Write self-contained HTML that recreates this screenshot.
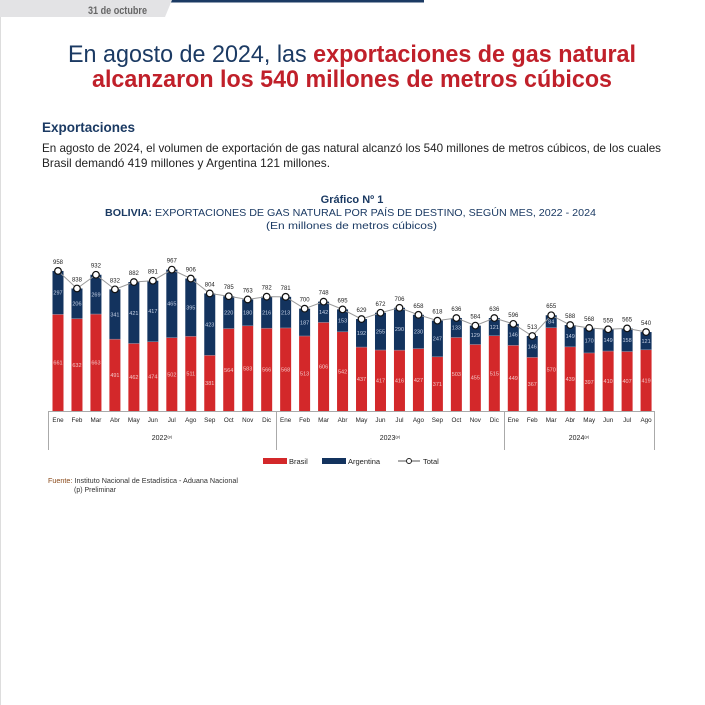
<!DOCTYPE html>
<html><head><meta charset="utf-8"><style>
body{margin:0;background:#fff;}
svg{display:block;font-family:"Liberation Sans",sans-serif;}
</style></head><body>
<svg id="s" width="705" height="705" viewBox="0 0 705 705" xmlns="http://www.w3.org/2000/svg">
<rect width="705" height="705" fill="#fff"/>
<line x1="0.5" y1="0" x2="0.5" y2="705" stroke="#ddd"/>
<rect x="86" y="0" width="338" height="2.5" fill="#1b3a63"/>
<polygon points="0,0 172,0 165,17 0,17" fill="#e3e3e5"/>
<text x="88" y="14" font-size="11" font-weight="bold" fill="#666" textLength="59" lengthAdjust="spacingAndGlyphs">31 de octubre</text>
<text x="68" y="62" font-size="24" textLength="568" lengthAdjust="spacingAndGlyphs"><tspan fill="#1b3a63">En agosto de 2024, las </tspan><tspan fill="#c0202a" font-weight="bold">exportaciones de gas natural</tspan></text>
<text x="92" y="87" font-size="24" font-weight="bold" fill="#c0202a" textLength="520" lengthAdjust="spacingAndGlyphs">alcanzaron los 540 millones de metros cúbicos</text>
<text x="42" y="132" font-size="14" font-weight="bold" fill="#1b3a63" textLength="93" lengthAdjust="spacingAndGlyphs">Exportaciones</text>
<text x="42" y="152" font-size="12" fill="#222" textLength="619" lengthAdjust="spacingAndGlyphs">En agosto de 2024, el volumen de exportación de gas natural alcanzó los 540 millones de metros cúbicos, de los cuales</text>
<text x="42" y="167" font-size="12" fill="#222" textLength="288" lengthAdjust="spacingAndGlyphs">Brasil demandó 419 millones y Argentina 121 millones.</text>
<text x="352" y="203" font-size="11" font-weight="bold" fill="#1b3a63" text-anchor="middle">Gráfico Nº 1</text>
<text x="105" y="216" font-size="10.5" fill="#1b3a63" textLength="491" lengthAdjust="spacingAndGlyphs"><tspan font-weight="bold">BOLIVIA:</tspan> EXPORTACIONES DE GAS NATURAL POR PAÍS DE DESTINO, SEGÚN MES, 2022 - 2024</text>
<text x="266" y="229" font-size="10.5" fill="#1b3a63" textLength="171" lengthAdjust="spacingAndGlyphs">(En millones de metros cúbicos)</text>
<g id="chart"></g>
<line x1="48" y1="411.5" x2="654" y2="411.5" stroke="#aaa"/>
<g stroke="#aaa"><line x1="48.5" y1="411" x2="48.5" y2="450"/><line x1="276.5" y1="411" x2="276.5" y2="450"/><line x1="504.5" y1="411" x2="504.5" y2="450"/><line x1="654.5" y1="411" x2="654.5" y2="450"/></g>
<g font-size="7" fill="#222" text-anchor="middle">
<text x="162" y="440">2022<tspan font-size="4" dy="-2">(p)</tspan></text>
<text x="390" y="440">2023<tspan font-size="4" dy="-2">(p)</tspan></text>
<text x="579" y="440">2024<tspan font-size="4" dy="-2">(p)</tspan></text>
</g>
<rect x="263" y="458" width="24" height="6" fill="#d3282a"/>
<text x="289" y="464" font-size="7.5" fill="#222">Brasil</text>
<rect x="322" y="458" width="24" height="6" fill="#13335e"/>
<text x="348" y="464" font-size="7.5" fill="#222">Argentina</text>
<line x1="398" y1="461" x2="420" y2="461" stroke="#555"/>
<circle cx="409" cy="461" r="2.5" fill="#fff" stroke="#222"/>
<text x="423" y="464" font-size="7.5" fill="#222">Total</text>
<text x="48" y="483" font-size="7" fill="#333" textLength="190" lengthAdjust="spacingAndGlyphs"><tspan fill="#8a4a1a">Fuente:</tspan> Instituto Nacional de Estadística - Aduana Nacional</text>
<text x="74" y="492" font-size="7" fill="#333">(p) Preliminar</text>
</svg>
<script>
var br=[661,632,663,491,462,474,502,511,381,564,583,566,568,513,606,542,437,417,416,427,371,503,455,515,449,367,570,439,397,410,407,419];
var ar=[297,206,269,341,421,417,465,395,423,220,180,216,213,187,142,153,192,255,290,230,247,133,129,121,146,146,84,149,170,149,158,121];
var tt=[958,838,932,832,882,891,967,906,804,785,763,782,781,700,748,695,629,672,706,658,618,636,584,636,596,513,655,588,568,559,565,540];
var m=["Ene","Feb","Mar","Abr","May","Jun","Jul","Ago","Sep","Oct","Nov","Dic"];
var B=411,k=0.1462,h='',pts=[],circ='';
for(var i=0;i<32;i++){
 var x=58+i*18.97,w=11,yb=B-br[i]*k,ya=B-tt[i]*k,t=tt[i];
 h+='<rect x="'+(x-w/2)+'" y="'+yb+'" width="'+w+'" height="'+(B-yb)+'" fill="#d3282a"/>';
 h+='<rect x="'+(x-w/2)+'" y="'+ya+'" width="'+w+'" height="'+(yb-ya)+'" fill="#13335e"/>';
 h+='<line x1="'+(x-w/2)+'" x2="'+(x+w/2)+'" y1="'+yb+'" y2="'+yb+'" stroke="#8a90a8" stroke-width="0.6"/>';
 h+='<text x="'+x+'" y="'+((yb+B)/2+2)+'" font-size="5.5" fill="#f3c8c8" text-anchor="middle">'+br[i]+'</text>';
 h+='<text x="'+x+'" y="'+((ya+yb)/2+2)+'" font-size="5.5" fill="#c8d2e6" text-anchor="middle">'+ar[i]+'</text>';
 h+='<text x="'+x+'" y="'+(ya-7)+'" font-size="6" fill="#222" text-anchor="middle">'+t+'</text>';
 h+='<text x="'+x+'" y="422" font-size="6.3" fill="#222" text-anchor="middle">'+m[i%12]+'</text>';
 pts.push(x+','+ya);
 circ+='<circle cx="'+x+'" cy="'+ya+'" r="3.3" fill="#fff" stroke="#111" stroke-width="1.2"/>';
}
h+='<polyline points="'+pts.join(' ')+'" fill="none" stroke="#999" stroke-width="1"/>'+circ;
document.getElementById('chart').innerHTML=h;
</script>
</body></html>
